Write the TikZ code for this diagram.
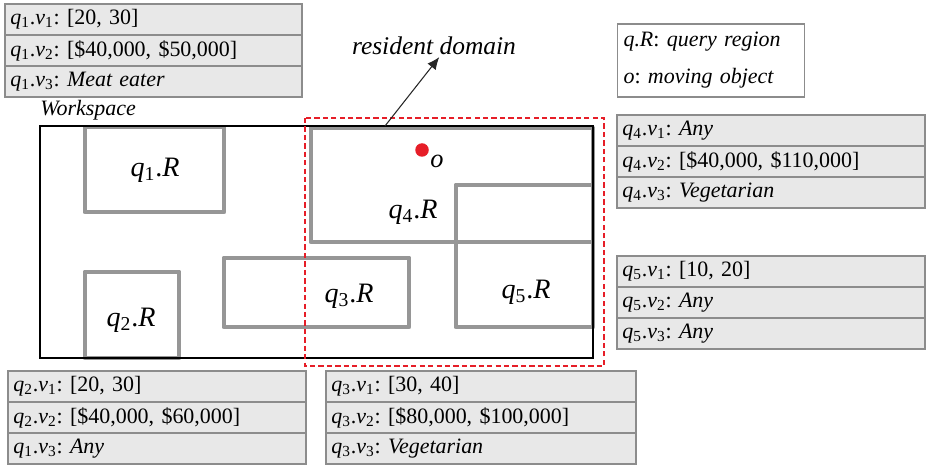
\documentclass[tikz,border=0pt]{standalone}
\usepackage{fontspec}
\setmainfont{Liberation Serif}
\usetikzlibrary{arrows.meta,positioning}
\definecolor{regiongray}{RGB}{150,150,150}
\definecolor{rowfill}{RGB}{232,232,232}
\definecolor{rowline}{RGB}{140,140,140}
\definecolor{domainred}{RGB}{230,30,40}

\newcommand{\qv}[2]{\textit{q}\textsubscript{#1}.\textit{v}\textsubscript{#2}}
\newcommand{\qreg}[1]{\textit{q}\textsubscript{#1}.\textit{R}}

\begin{document}
\frenchspacing
\begin{tikzpicture}[x=0.02cm, y=-0.02cm,
        tabrow/.style={rectangle, draw=rowline, fill=rowfill, line width=0.6pt, outer sep=0pt, anchor=north west, minimum height=0.62cm, inner xsep=3pt, inner ysep=0pt, text width=#1, align=left, font=\fontsize{12.5}{14}\selectfont},
        region/.style={draw=regiongray, line width=2.8pt, line join=round},
        reglabel/.style={font=\fontsize{16}{18}\selectfont},
        keybox/.style={rectangle, draw=rowline, fill=white, line width=0.6pt, minimum width=3.72cm, minimum height=1.46cm, text width=3.5cm, align=left, font=\fontsize{12.5}{14}\selectfont\itshape},
        pointer/.style={-{Latex[length=7pt, width=6pt]}, line width=0.6pt, black!85}]

        \useasboundingbox (0,0) rectangle (929,465);

        % Query regions inside the workspace
        \draw[region] (85,127) rectangle (224,212);
        \draw[region] (85,272) rectangle (179,358);
        \draw[region] (224,258) rectangle (409,327);
        \draw[region] (311,128) rectangle (593,242);
        \draw[region] (456,185) rectangle (593,327);
        \node[anchor=south west, inner sep=0pt, font=\fontsize{12.5}{14}\selectfont\itshape] (wslabel) at (40,121) {Workspace};
        \draw[line width=0.9pt] (40,126) rectangle (593,358);

        \node[reglabel] (q1R) at (155,170) {\qreg{1}};
        \node[reglabel] (q2R) at (131,320) {\qreg{2}};
        \node[reglabel] (q3R) at (349,296) {\qreg{3}};
        \node[reglabel] (q4R) at (413,212) {\qreg{4}};
        \node[reglabel] (q5R) at (526,292) {\qreg{5}};

        % Resident domain and the moving object
        \draw[domainred, line width=1.5pt, dash pattern=on 3pt off 1.8pt] (305,118) rectangle (604,366);
        \coordinate (domtop) at (385,126);
        \node[font=\fontsize{14.5}{16}\selectfont\itshape, inner sep=1pt] (resdom) at (434,46) {resident domain};
        \draw[pointer] (domtop) -- ([xshift=3pt]resdom.south);

        \node[circle, fill=domainred, inner sep=0pt, minimum size=0.27cm] (obj) at (422,150) {};
        \node[font=\fontsize{15}{16}\selectfont\itshape] (objlabel) at (437,161) {o};

        % Legend
        \node[keybox] (key) at (711,60.5) {q.R\upshape: \itshape query region\\[7pt]o\upshape: \itshape moving object};

        % Query attribute tables
        \node[tabrow=5.73cm] (q1a) at (5,4) {\qv{1}{1}: [20, 30]};
        \node[tabrow=5.73cm, below=0pt of q1a] (q1b) {\qv{1}{2}: [\$40,000, \$50,000]};
        \node[tabrow=5.73cm, below=0pt of q1b] (q1c) {\qv{1}{3}: \textit{Meat eater}};

        \node[tabrow=5.95cm] (q4a) at (617,115) {\qv{4}{1}: \textit{Any}};
        \node[tabrow=5.95cm, below=0pt of q4a] (q4b) {\qv{4}{2}: [\$40,000, \$110,000]};
        \node[tabrow=5.95cm, below=0pt of q4b] (q4c) {\qv{4}{3}: \textit{Vegetarian}};

        \node[tabrow=5.95cm] (q5a) at (617,256) {\qv{5}{1}: [10, 20]};
        \node[tabrow=5.95cm, below=0pt of q5a] (q5b) {\qv{5}{2}: \textit{Any}};
        \node[tabrow=5.95cm, below=0pt of q5b] (q5c) {\qv{5}{3}: \textit{Any}};

        \node[tabrow=5.75cm] (q2a) at (8,371) {\qv{2}{1}: [20, 30]};
        \node[tabrow=5.75cm, below=0pt of q2a] (q2b) {\qv{2}{2}: [\$40,000, \$60,000]};
        \node[tabrow=5.75cm, below=0pt of q2b] (q2c) {\qv{1}{3}: \textit{Any}};

        \node[tabrow=5.99cm] (q3a) at (326,371) {\qv{3}{1}: [30, 40]};
        \node[tabrow=5.99cm, below=0pt of q3a] (q3b) {\qv{3}{2}: [\$80,000, \$100,000]};
        \node[tabrow=5.99cm, below=0pt of q3b] (q3c) {\qv{3}{3}: \textit{Vegetarian}};

    \end{tikzpicture}
\end{document}
